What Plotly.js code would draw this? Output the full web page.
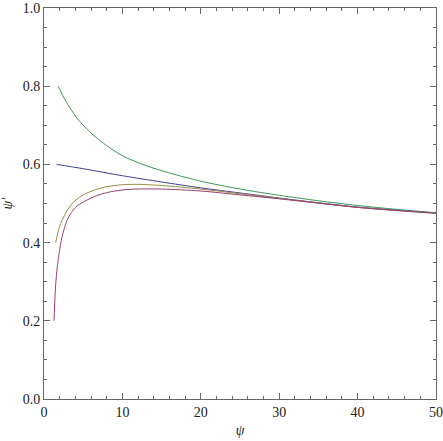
<!DOCTYPE html>
<html>
<head>
<meta charset="utf-8">
<script src="https://cdn.plot.ly/plotly-3.0.1.min.js"></script>
<style>
  html, body { margin: 0; padding: 0; background: white; }
  #plot { width: 443px; height: 441px; }
</style>
</head>
<body>
<div id="plot"></div>
<script>
// curves (x = psi, y = psi')
const greenX = [1.83, 2.5, 3.3, 4.25, 5.2, 6.4, 8, 10.2, 13, 16, 20, 25, 30, 35, 40, 45, 50];
const greenY = [0.800, 0.772, 0.745, 0.717, 0.696, 0.673, 0.648, 0.620, 0.597, 0.578, 0.557, 0.537, 0.521, 0.507, 0.495, 0.485, 0.476];

const blueX = [1.62, 5, 10, 15, 20, 25, 30, 35, 40, 45, 50];
const blueY = [0.600, 0.589, 0.571, 0.555, 0.540, 0.527, 0.514, 0.502, 0.491, 0.483, 0.476];

const oliveX = [1.49, 1.8, 2.13, 2.5, 2.97, 3.83, 5, 6.5, 8, 10, 12, 15, 20, 25, 30, 35, 40, 45, 50];
const oliveY = [0.400, 0.428, 0.449, 0.465, 0.483, 0.505, 0.522, 0.535, 0.543, 0.548, 0.549, 0.546, 0.537, 0.525, 0.513, 0.501, 0.490, 0.482, 0.475];

const purpleX = [1.28, 1.4, 1.5, 1.7, 2.13, 2.5, 2.97, 3.5, 4.25, 5.5, 7, 8.5, 10.2, 12, 15, 20, 25, 30, 35, 40, 45, 50];
const purpleY = [0.200, 0.260, 0.295, 0.338, 0.398, 0.430, 0.458, 0.477, 0.494, 0.509, 0.522, 0.530, 0.535, 0.537, 0.537, 0.532, 0.522, 0.512, 0.501, 0.490, 0.482, 0.475];

const serif = 'Liberation Serif';

function curve(x, y, color) {
  return {
    type: 'scatter',
    mode: 'lines',
    x: x,
    y: y,
    line: { color: color, width: 1, shape: 'spline', smoothing: 0.8 },
    hoverinfo: 'skip'
  };
}

const traces = [
  curve(greenX, greenY, '#3d9956'),
  curve(blueX, blueY, '#3d3d99'),
  curve(oliveX, oliveY, '#998b3d'),
  curve(purpleX, purpleY, '#993d71')
];

const axisBase = {
  showgrid: false,
  zeroline: false,
  showline: true,
  linecolor: '#666',
  linewidth: 1,
  mirror: 'allticks',
  ticks: 'inside',
  ticklen: 6,
  tickcolor: '#666',
  tickfont: { family: serif, size: 14, color: '#222' }
};

const layout = {
  width: 443,
  height: 441,
  margin: { l: 44, r: 7, t: 8, b: 42 },
  paper_bgcolor: 'white',
  plot_bgcolor: 'white',
  showlegend: false,
  font: { family: serif },
  xaxis: Object.assign({}, axisBase, {
    range: [0, 50],
    dtick: 10,
    minor: { dtick: 2, ticks: 'inside', ticklen: 3, tickcolor: '#666' },
    title: { text: 'ψ', font: { family: serif, size: 14, style: 'italic', color: '#222' }, standoff: 6 }
  }),
  yaxis: Object.assign({}, axisBase, {
    range: [0, 1],
    dtick: 0.2,
    tickformat: '.1f',
    minor: { dtick: 0.05, ticks: 'inside', ticklen: 3, tickcolor: '#666' },
    title: { text: 'ψ′', font: { family: serif, size: 14, style: 'italic', color: '#222' }, standoff: 8 }
  })
};

Plotly.newPlot('plot', traces, layout, { displayModeBar: false, staticPlot: true });
</script>
</body>
</html>
